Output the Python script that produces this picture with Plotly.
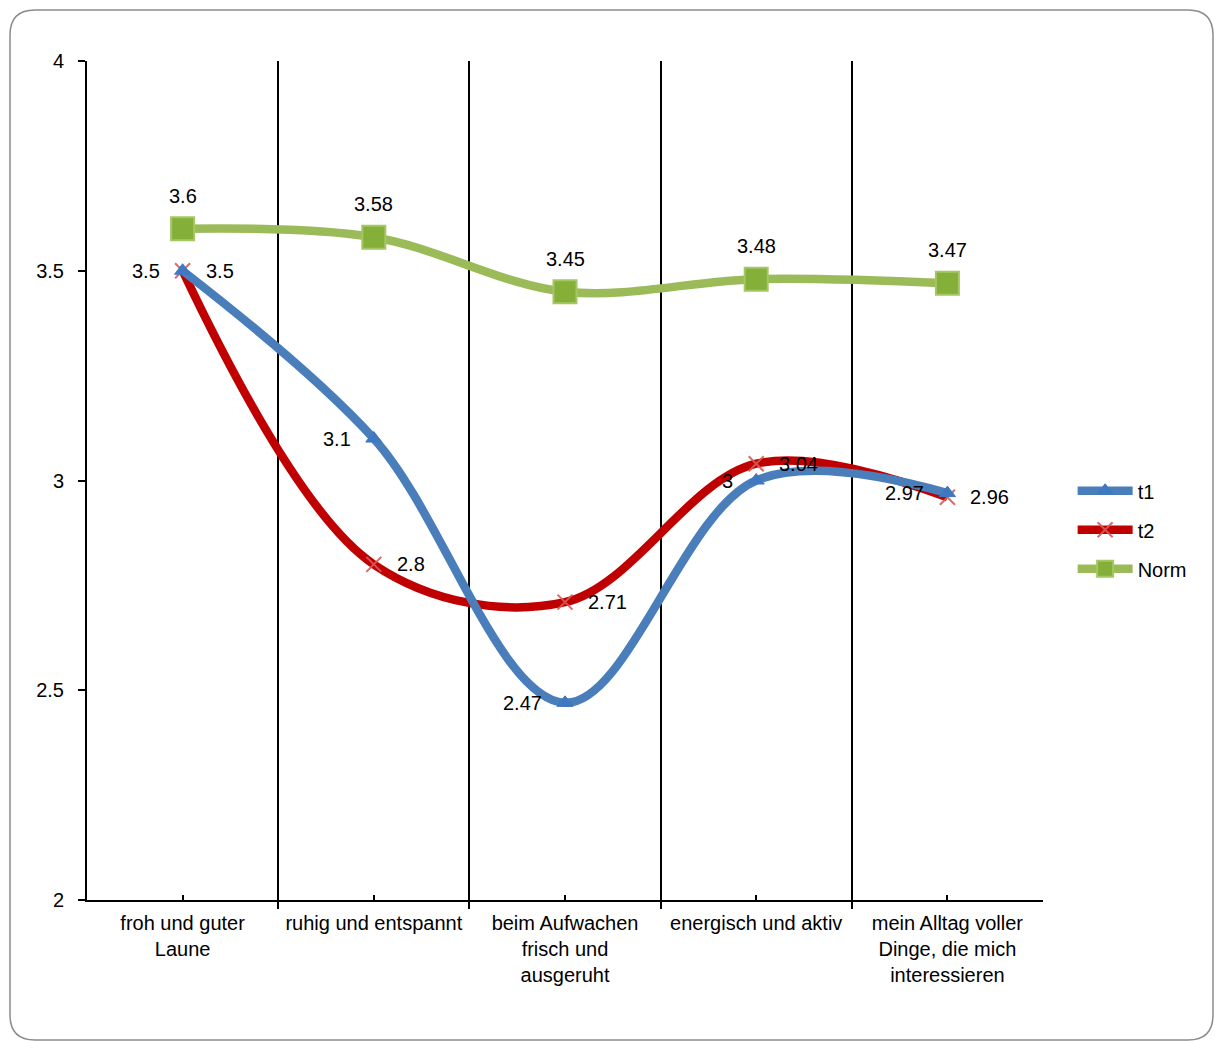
import plotly.graph_objects as go

# Survey items (x categories)
categories = [
    "froh und guter<br>Laune",
    "ruhig und entspannt",
    "beim Aufwachen<br>frisch und<br>ausgeruht",
    "energisch und aktiv",
    "mein Alltag voller<br>Dinge, die mich<br>interessieren",
]

# Mean scores per measurement
t1_values = [3.5, 3.1, 2.47, 3.0, 2.97]
t2_values = [3.5, 2.8, 2.71, 3.04, 2.96]
norm_values = [3.6, 3.58, 3.45, 3.48, 3.47]

y_ticks = [2, 2.5, 3, 3.5, 4]

W, H = 1215, 1041
M_L, M_R, M_T, M_B = 87, 172, 61, 141
PLOT_W = W - M_L - M_R
PLOT_H = H - M_T - M_B

FONT = "Liberation Sans, Arial, sans-serif"
FS = 20

BLUE = "#4A7EBB"
RED = "#C00000"
GREEN = "#9BBB59"

xs = list(range(len(categories)))

fig = go.Figure()

fig.add_trace(go.Scatter(
    x=xs, y=t2_values, name="t2", mode="lines+markers",
    line=dict(color=RED, width=8.5, shape="spline", smoothing=1.0),
    marker=dict(symbol="x-thin", size=15, color="rgba(215,90,85,0.9)",
                line=dict(color="rgba(215,90,85,0.9)", width=2)),
    legendgroup="t2", legendrank=2,
))
fig.add_trace(go.Scatter(
    x=xs, y=t1_values, name="t1", mode="lines+markers",
    line=dict(color=BLUE, width=8.5, shape="spline", smoothing=1.0),
    marker=dict(symbol="triangle-up", size=14, color="#3F78C0",
                line=dict(color="#3F78C0", width=1)),
    legendgroup="t1", legendrank=1,
))
fig.add_trace(go.Scatter(
    x=xs, y=norm_values, name="Norm", mode="lines+markers",
    line=dict(color=GREEN, width=8.5, shape="spline", smoothing=1.0),
    marker=dict(symbol="square", size=23, color="#84B03A",
                line=dict(color="#A4C663", width=2)),
    legendgroup="Norm", legendrank=3,
))


def fmt(v):
    return f"{v:g}"


annotations = []
for x, v in zip(xs, t1_values):
    annotations.append(dict(x=x, y=v, text=fmt(v), showarrow=False,
                            xanchor="right", yanchor="middle", xshift=-21))
for x, v in zip(xs, t2_values):
    annotations.append(dict(x=x, y=v, text=fmt(v), showarrow=False,
                            xanchor="left", yanchor="middle", xshift=21))
for x, v in zip(xs, norm_values):
    annotations.append(dict(x=x, y=v, text=fmt(v), showarrow=False,
                            xanchor="center", yanchor="middle", yshift=33))
for a in annotations:
    a["font"] = dict(family=FONT, size=FS, color="black")


# Rounded chart frame, expressed in paper units
def px_to_paper(px, py):
    return (px - M_L) / PLOT_W, (H - M_B - py) / PLOT_H


def frame_path(x0, y0, x1, y1, r):
    pts = []
    cmds = [
        ("M", x0 + r, y0), ("L", x1 - r, y0), ("Q", x1, y0, x1, y0 + r),
        ("L", x1, y1 - r), ("Q", x1, y1, x1 - r, y1),
        ("L", x0 + r, y1), ("Q", x0, y1, x0, y1 - r),
        ("L", x0, y0 + r), ("Q", x0, y0, x0 + r, y0),
    ]
    for c in cmds:
        coords = c[1:]
        out = []
        for i in range(0, len(coords), 2):
            px, py = px_to_paper(coords[i], coords[i + 1])
            out.append(f"{px:.5f},{py:.5f}")
        pts.append(c[0] + " ".join(out))
    return " ".join(pts) + " Z"


shapes = [dict(type="path", xref="paper", yref="paper",
               path=frame_path(10, 10, 1213, 1040, 25),
               line=dict(color="#8C8C8C", width=1.5), layer="below")]

fig.update_layout(
    width=W, height=H,
    margin=dict(l=M_L, r=M_R, t=M_T, b=M_B, pad=0),
    paper_bgcolor="white", plot_bgcolor="white",
    font=dict(family=FONT, size=FS, color="black"),
    showlegend=True,
    legend=dict(
        x=1.031, y=0.511, xanchor="left", yanchor="top",
        font=dict(family=FONT, size=FS, color="black"),
        traceorder="grouped", tracegroupgap=10, itemwidth=55,
        bgcolor="rgba(0,0,0,0)",
    ),
    annotations=annotations,
    shapes=shapes,
    xaxis=dict(
        range=[-0.5, len(categories) - 0.5],
        tickmode="array", tickvals=xs, ticktext=categories,
        ticks="inside", ticklen=5, tickwidth=1.5, tickcolor="black",
        showgrid=False, zeroline=False,
        showline=True, linecolor="black", linewidth=2,
        ticklabelstandoff=4,
        tickfont=dict(family=FONT, size=FS, color="black"),
        minor=dict(tickmode="array",
                   tickvals=[i + 0.5 for i in range(-1, len(categories))],
                   ticks="outside", ticklen=7, tickwidth=1.5, tickcolor="black",
                   showgrid=True, gridcolor="black", gridwidth=1.5),
        fixedrange=True,
    ),
    yaxis=dict(
        range=[2, 4], tickmode="array", tickvals=y_ticks,
        ticktext=[fmt(v) for v in y_ticks],
        ticks="outside", ticklen=7, tickwidth=1.5, tickcolor="black",
        showgrid=False, zeroline=False,
        showline=True, linecolor="black", linewidth=2,
        ticklabelstandoff=10,
        tickfont=dict(family=FONT, size=FS, color="black"),
        fixedrange=True,
    ),
)

fig.write_html("out.html")
